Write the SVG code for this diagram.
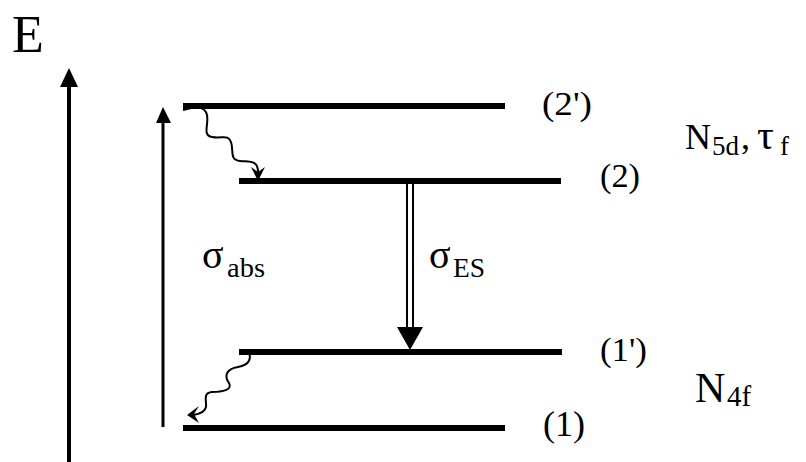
<svg xmlns="http://www.w3.org/2000/svg" width="806" height="462" viewBox="0 0 806 462">
<style>
.t{font-family:"Liberation Serif","Times New Roman",serif;fill:#000}
.lvl{stroke:#000;stroke-width:6;fill:none}
.w{stroke:#000;stroke-width:2;fill:none}
</style>
<rect width="806" height="462" fill="#fff"/>
<g id="axis">
<line x1="69" y1="462" x2="69" y2="84" stroke="#000" stroke-width="4"/>
<polygon points="69,68 60,87 78,87" fill="#000"/>
<text class="t" x="12" y="52" font-size="52">E</text>
</g>
<g id="level-2p"><line class="lvl" x1="183" y1="106" x2="505" y2="106"/><text class="t" x="542" y="115" font-size="34" textLength="50" lengthAdjust="spacingAndGlyphs">(2')</text></g>
<g id="level-2"><line class="lvl" x1="239" y1="181" x2="561" y2="181"/><text class="t" x="600" y="187" font-size="34" textLength="40" lengthAdjust="spacingAndGlyphs">(2)</text></g>
<g id="level-1p"><line class="lvl" x1="239" y1="352" x2="562" y2="352"/><text class="t" x="600" y="361" font-size="34" textLength="47" lengthAdjust="spacingAndGlyphs">(1')</text></g>
<g id="level-1"><line class="lvl" x1="183" y1="428" x2="505" y2="428"/><text class="t" x="543" y="436" font-size="35" textLength="42" lengthAdjust="spacingAndGlyphs">(1)</text></g>
<g id="label-5d"><text class="t" font-size="36"><tspan x="685" y="149">N</tspan><tspan x="712" y="155" font-size="27">5d</tspan><tspan x="741" y="149">,</tspan><tspan x="757" y="149" font-size="42">τ</tspan><tspan x="780" y="155" font-size="27">f</tspan></text></g>
<g id="label-4f"><text class="t" font-size="42"><tspan x="695" y="402">N</tspan><tspan x="727" y="406" font-size="29">4f</tspan></text></g>
<g id="connectors">
<line x1="163" y1="427" x2="163" y2="118" stroke="#000" stroke-width="3"/>
<polygon points="163,107 156,123 171,123" fill="#000"/>
<line x1="407" y1="184" x2="407" y2="330" stroke="#000" stroke-width="2"/>
<line x1="413" y1="184" x2="413" y2="330" stroke="#000" stroke-width="2"/>
<polygon points="410,350 397,327 423,327" fill="#000"/>
<path class="w" d="M183,110 C195,106 205,106 207,115 C209,125 202,135 212,137 C222,139 228,134 231,142 C234,150 229,160 240,161 C250,162 258,160 258,172"/>
<polygon points="258,181 251,167 258,172 265,167" fill="#000"/>
<path class="w" d="M248,350 C252,358 250,365 238,367 C226,369 224,376 229,383 C233,390 222,392 212,392 C202,393 207,402 206,407 C205,412 200,414 193,415"/>
<polygon points="187,415 199,406 194,414 199,423" fill="#000"/>
</g>
<g id="labels">
<text class="t" font-size="40"><tspan x="202" y="268">σ</tspan><tspan x="227" y="277" font-size="27" textLength="38" lengthAdjust="spacingAndGlyphs">abs</tspan></text>
<text class="t" font-size="40"><tspan x="429" y="268">σ</tspan><tspan x="453" y="277" font-size="27" textLength="32" lengthAdjust="spacingAndGlyphs">ES</tspan></text>
</g>
</svg>
